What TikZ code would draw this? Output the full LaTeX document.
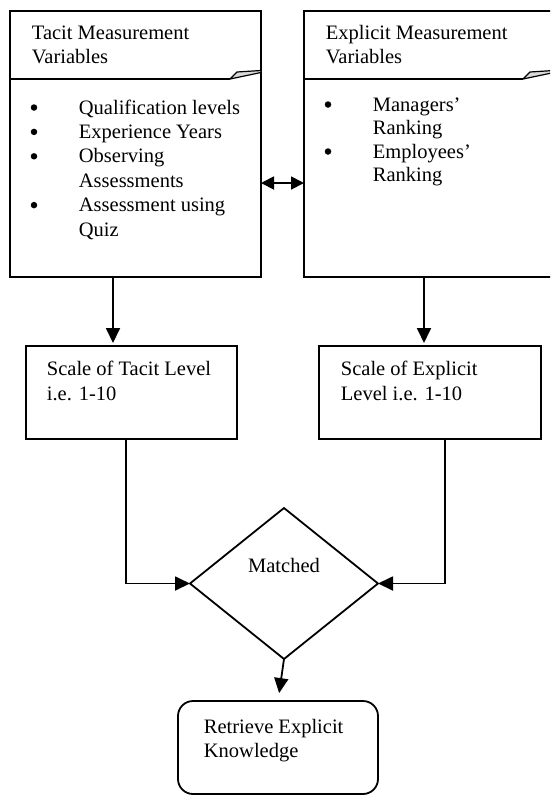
\documentclass[tikz,border=0pt]{standalone}
\usepackage{fontspec}
\setmainfont{Liberation Serif}
\usetikzlibrary{arrows.meta,shapes.geometric,calc}
\begin{document}
\begin{tikzpicture}[x=1pt,y=-1pt,
  line width=1.8pt,
  font=\fontsize{20.5}{24}\selectfont,
  frame/.style={draw,line width=1.8pt,rectangle,inner sep=0pt,outer sep=0pt,anchor=north west},
  txt/.style={anchor=base west,inner sep=0pt},
  dot/.style={circle,fill,inner sep=0pt,minimum size=6.5pt},
  arr/.style={-{Triangle[length=15pt,width=14pt]},line width=1.8pt},
  dbl/.style={{Triangle[length=13pt,width=13pt]}-{Triangle[length=13pt,width=13pt]},line width=1.8pt},
  fold/.style={draw,fill=gray!30,line width=1.2pt,line join=miter}]
\useasboundingbox (0,0) rectangle (550,796);
\clip (0,0) rectangle (550,796);

% upper boxes with their header bands
\node[frame,minimum width=251pt,minimum height=266pt] (tacit) at (10,11) {};
\node[frame,minimum width=250pt,minimum height=266pt] (expl) at (304,11) {};
\draw ([yshift=-68pt]tacit.north west) -- ++(220,0) coordinate (tf);
\draw[fold] (tf) -- ++(7,-7) -- ++(24,-1.5) -- ++(0,2) -- cycle;
\draw ([yshift=-68pt]expl.north west) -- ++(219,0) coordinate (ef);
\draw[fold] (ef) -- ++(7,-7) -- ++(24,-1.5) -- ++(0,2) -- cycle;

\node[txt] (t1) at (31,39) {Tacit Measurement};
\node[txt] (t2) at (31,63) {Variables};
\node[dot] (tb1) at (34,107.5) {};
\node[txt] (ti1) at (78,114) {Qualification levels};
\node[dot] (tb2) at (34,131.9) {};
\node[txt] (ti2) at (78,138.4) {Experience Years};
\node[dot] (tb3) at (34,156.3) {};
\node[txt] (ti3) at (78,162.8) {Observing};
\node[txt] (ti4) at (78,187.2) {Assessments};
\node[dot] (tb4) at (34,205.1) {};
\node[txt] (ti5) at (78,211.6) {Assessment using};
\node[txt] (ti6) at (78,236) {Quiz};

\node[txt] (e1) at (325,39) {Explicit Measurement};
\node[txt] (e2) at (325,63) {Variables};
\node[dot] (eb1) at (328,104.5) {};
\node[txt] (ei1) at (372,111) {Managers’};
\node[txt] (ei2) at (372,134.5) {Ranking};
\node[dot] (eb2) at (328,151.5) {};
\node[txt] (ei3) at (372,158) {Employees’};
\node[txt] (ei4) at (372,181.5) {Ranking};

% scale boxes
\node[frame,minimum width=211pt,minimum height=93pt] (scaleT) at (26,346) {};
\node[frame,minimum width=222pt,minimum height=93pt] (scaleE) at (319,346) {};
\node[txt] (s1) at (46,375) {Scale of Tacit Level};
\node[txt] (s2) at (46,400) {i.e. 1-10};
\node[txt] (s3) at (340,375) {Scale of Explicit};
\node[txt] (s4) at (340,400) {Level i.e. 1-10};

% decision and result
\node[diamond,draw,line width=1.8pt,minimum width=188pt,minimum height=151pt,inner sep=0pt,outer sep=0pt] (match) at (284,583.5) {};
\node[anchor=base,inner sep=0pt] (mtxt) at (284,572) {Matched};
\node[frame,rounded corners=15pt,minimum width=200pt,minimum height=93pt] (retr) at (178,701) {};
\node[txt] (r1) at (203,733) {Retrieve Explicit};
\node[txt] (r2) at (203,757) {Knowledge};

% connectors
\draw[dbl] ([yshift=-39pt]tacit.east) -- ([yshift=-39pt]expl.west);
\draw[arr,shorten >=3pt] ([xshift=103pt]tacit.south west) -- ([xshift=87pt]scaleT.north west);
\draw[arr,shorten >=3pt] ([xshift=120pt]expl.south west) -- ([xshift=105pt]scaleE.north west);
\draw[arr] ([xshift=100pt]scaleT.south west) |- (match.west);
\draw[arr] ([xshift=126pt]scaleE.south west) |- (match.east);
\draw[arr,shorten >=8pt] (match.south) -- (retr.north);
\end{tikzpicture}
\end{document}
